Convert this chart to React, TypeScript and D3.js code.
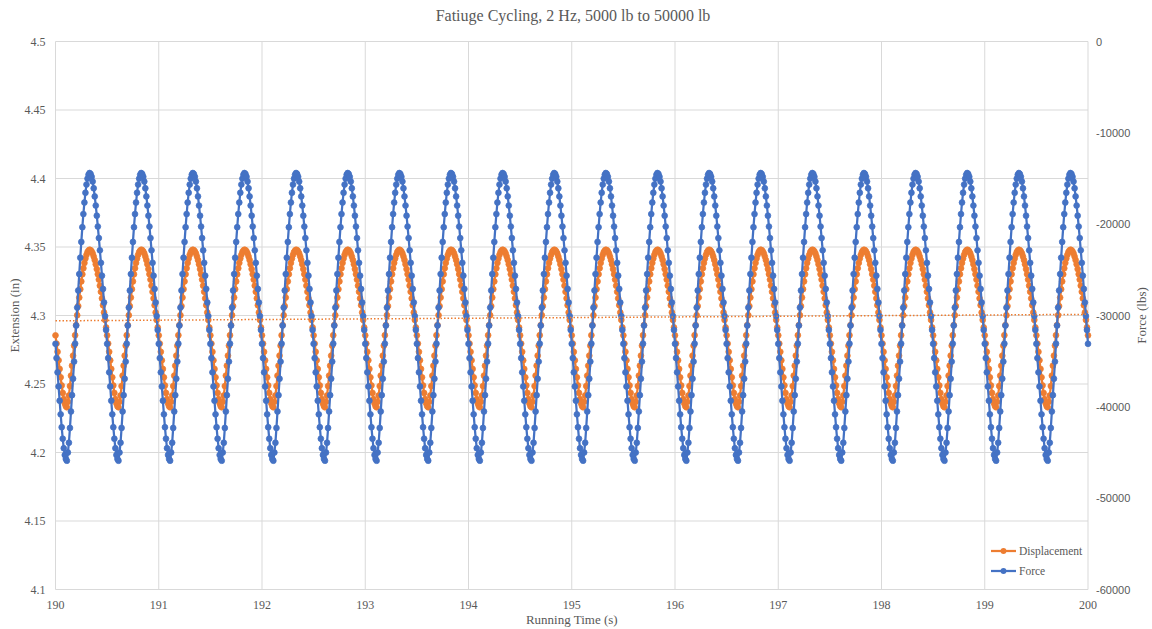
import React from "react";
import * as d3 from "d3";

// ---- Data ----
const chartTitle = "Fatiuge Cycling, 2 Hz, 5000 lb to 50000 lb";
const xTicks = [190, 191, 192, 193, 194, 195, 196, 197, 198, 199, 200];
const leftTicks = [4.1, 4.15, 4.2, 4.25, 4.3, 4.35, 4.4, 4.45, 4.5];
const rightTicks = [-60000, -50000, -40000, -30000, -20000, -10000, 0];

// Sampling of the recorded signal (100 samples per second, 190 s to 200 s)
const startTime = 190;
const sampleStep = 0.01;
const sampleCount = 1001;
const phaseOffset = 39; // cycle sample reached at t = 190 s

// One loading cycle (0.5 s, 50 samples), starting at a force trough
const forceCycle = [
  -45900, -45000, -43930, -42310, -40510, -38720, -36920, -35050, -33080, -31100,
  -29130, -27260, -25460, -23670, -21940, -20330, -18890, -17630, -16560, -15660,
  -15010, -14580, -14400, -14510, -14810, -15330, -16070, -16960, -17960, -19070,
  -20260, -21520, -22860, -24230, -25640, -27090, -28570, -30060, -31580, -33100,
  -34660, -36220, -37770, -39330, -40820, -42230, -43490, -44530, -45270, -45710,
];
const displacementCycle = [
  4.2330, 4.2370, 4.2416, 4.2485, 4.2561, 4.2634, 4.2707, 4.2780, 4.2856, 4.2930,
  4.3002, 4.3069, 4.3131, 4.3192, 4.3249, 4.3301, 4.3345, 4.3384, 4.3416, 4.3443,
  4.3463, 4.3474, 4.3480, 4.3477, 4.3468, 4.3453, 4.3431, 4.3405, 4.3374, 4.3339,
  4.3302, 4.3262, 4.3218, 4.3173, 4.3125, 4.3075, 4.3022, 4.2968, 4.2913, 4.2855,
  4.2795, 4.2735, 4.2673, 4.2610, 4.2549, 4.2489, 4.2435, 4.2390, 4.2358, 4.2338,
];

type Pt = { t: number; v: number };
const times = d3.range(sampleCount).map((i) => +(startTime + i * sampleStep).toFixed(2));
const forceData: Pt[] = times.map((t, i) => ({ t, v: forceCycle[(i + phaseOffset) % forceCycle.length] }));
const displacementData: Pt[] = times.map((t, i) => ({
  t,
  v: displacementCycle[(i + phaseOffset) % displacementCycle.length],
}));

// ---- Layout ----
const W = 1152;
const H = 629;
const M = { left: 55.5, right: 1088, top: 41.5, bottom: 589.5 };
const ORANGE = "#ED7D31";
const BLUE = "#4472C4";
const TXT = "#595959";
const GRID = "#D9D9D9";
const SERIF = "'Liberation Serif', 'Times New Roman', serif";
const SANS = "'Liberation Sans', Arial, sans-serif";
const R = 2.9;

export default function App() {
  const x = d3.scaleLinear().domain([190, 200]).range([M.left, M.right]);
  const yL = d3.scaleLinear().domain([4.1, 4.5]).range([M.bottom, M.top]);
  const yR = d3.scaleLinear().domain([-60000, 0]).range([M.bottom, M.top]);

  const lineD = d3.line<Pt>().x((d) => x(d.t)).y((d) => yL(d.v));
  const lineF = d3.line<Pt>().x((d) => x(d.t)).y((d) => yR(d.v));

  // linear trendline of displacement
  const n = displacementData.length;
  const mt = d3.mean(displacementData, (d) => d.t) as number;
  const mv = d3.mean(displacementData, (d) => d.v) as number;
  let sxy = 0;
  let sxx = 0;
  displacementData.forEach((d) => {
    sxy += (d.t - mt) * (d.v - mv);
    sxx += (d.t - mt) * (d.t - mt);
  });
  const slope = n > 1 ? sxy / sxx : 0;
  const trend = (t: number) => mv + slope * (t - mt);

  const midY = (M.top + M.bottom) / 2;
  const midX = (M.left + M.right) / 2;

  return (
    <svg
      width={W}
      height={H}
      style={{ position: "absolute", left: 0, top: 0, background: "#fff" }}
      xmlns="http://www.w3.org/2000/svg"
    >
      <rect x={0} y={0} width={W} height={H} fill="#fff" />
      {/* title */}
      <text x={573} y={21} textAnchor="middle" fontFamily={SERIF} fontSize={16} fill={TXT}>
        {chartTitle}
      </text>

      {/* gridlines */}
      {leftTicks.map((v) => (
        <line key={"h" + v} x1={M.left} x2={M.right} y1={yL(v)} y2={yL(v)} stroke={GRID} strokeWidth={1} />
      ))}
      {xTicks.map((v) => (
        <line key={"v" + v} x1={x(v)} x2={x(v)} y1={M.top} y2={M.bottom} stroke={GRID} strokeWidth={1} />
      ))}

      {/* left tick labels */}
      {leftTicks.map((v) => (
        <text
          key={"lt" + v}
          x={M.left - 10}
          y={yL(v) + 4}
          textAnchor="end"
          fontFamily={SERIF}
          fontSize={12}
          fill={TXT}
        >
          {String(v)}
        </text>
      ))}
      {/* right tick labels */}
      {rightTicks.map((v) => (
        <text key={"rt" + v} x={M.right + 8} y={yR(v) + 4} textAnchor="start" fontFamily={SANS} fontSize={11} fill={TXT}>
          {String(v)}
        </text>
      ))}
      {/* x tick labels */}
      {xTicks.map((v) => (
        <text key={"xt" + v} x={x(v)} y={M.bottom + 19} textAnchor="middle" fontFamily={SERIF} fontSize={12} fill={TXT}>
          {String(v)}
        </text>
      ))}

      {/* axis titles */}
      <text x={midX} y={624} textAnchor="middle" fontFamily={SERIF} fontSize={13} fill={TXT}>
        Running Time (s)
      </text>
      <text
        transform={`translate(19,${midY}) rotate(-90)`}
        textAnchor="middle"
        fontFamily={SERIF}
        fontSize={13}
        fill={TXT}
      >
        Extension (in)
      </text>
      <text
        transform={`translate(1146,${midY}) rotate(-90)`}
        textAnchor="middle"
        fontFamily={SERIF}
        fontSize={13}
        fill={TXT}
      >
        Force (lbs)
      </text>

      {/* displacement series */}
      <path d={lineD(displacementData) || ""} fill="none" stroke={ORANGE} strokeWidth={2.25} />
      {displacementData.map((d, i) => (
        <circle key={"d" + i} cx={x(d.t)} cy={yL(d.v)} r={R} fill={ORANGE} stroke={ORANGE} strokeWidth={0.75} />
      ))}

      {/* force series */}
      <path d={lineF(forceData) || ""} fill="none" stroke={BLUE} strokeWidth={2.25} />
      {forceData.map((d, i) => (
        <circle key={"f" + i} cx={x(d.t)} cy={yR(d.v)} r={R} fill={BLUE} stroke={BLUE} strokeWidth={0.75} />
      ))}

      {/* displacement trendline */}
      <line
        x1={x(190)}
        x2={x(200)}
        y1={yL(trend(190))}
        y2={yL(trend(200))}
        stroke={ORANGE}
        strokeWidth={1.5}
        strokeDasharray="1.5,2"
      />

      {/* legend */}
      <g>
        <rect x={986} y={541} width={100} height={40} fill="#fff" />
        <line x1={991} x2={1016} y1={551} y2={551} stroke={ORANGE} strokeWidth={2.25} />
        <circle cx={1003.5} cy={551} r={R} fill={ORANGE} />
        <text x={1019} y={555} fontFamily={SERIF} fontSize={11.5} fill={TXT}>
          Displacement
        </text>
        <line x1={991} x2={1016} y1={571} y2={571} stroke={BLUE} strokeWidth={2.25} />
        <circle cx={1003.5} cy={571} r={R} fill={BLUE} />
        <text x={1019} y={575} fontFamily={SERIF} fontSize={11.5} fill={TXT}>
          Force
        </text>
      </g>
    </svg>
  );
}
